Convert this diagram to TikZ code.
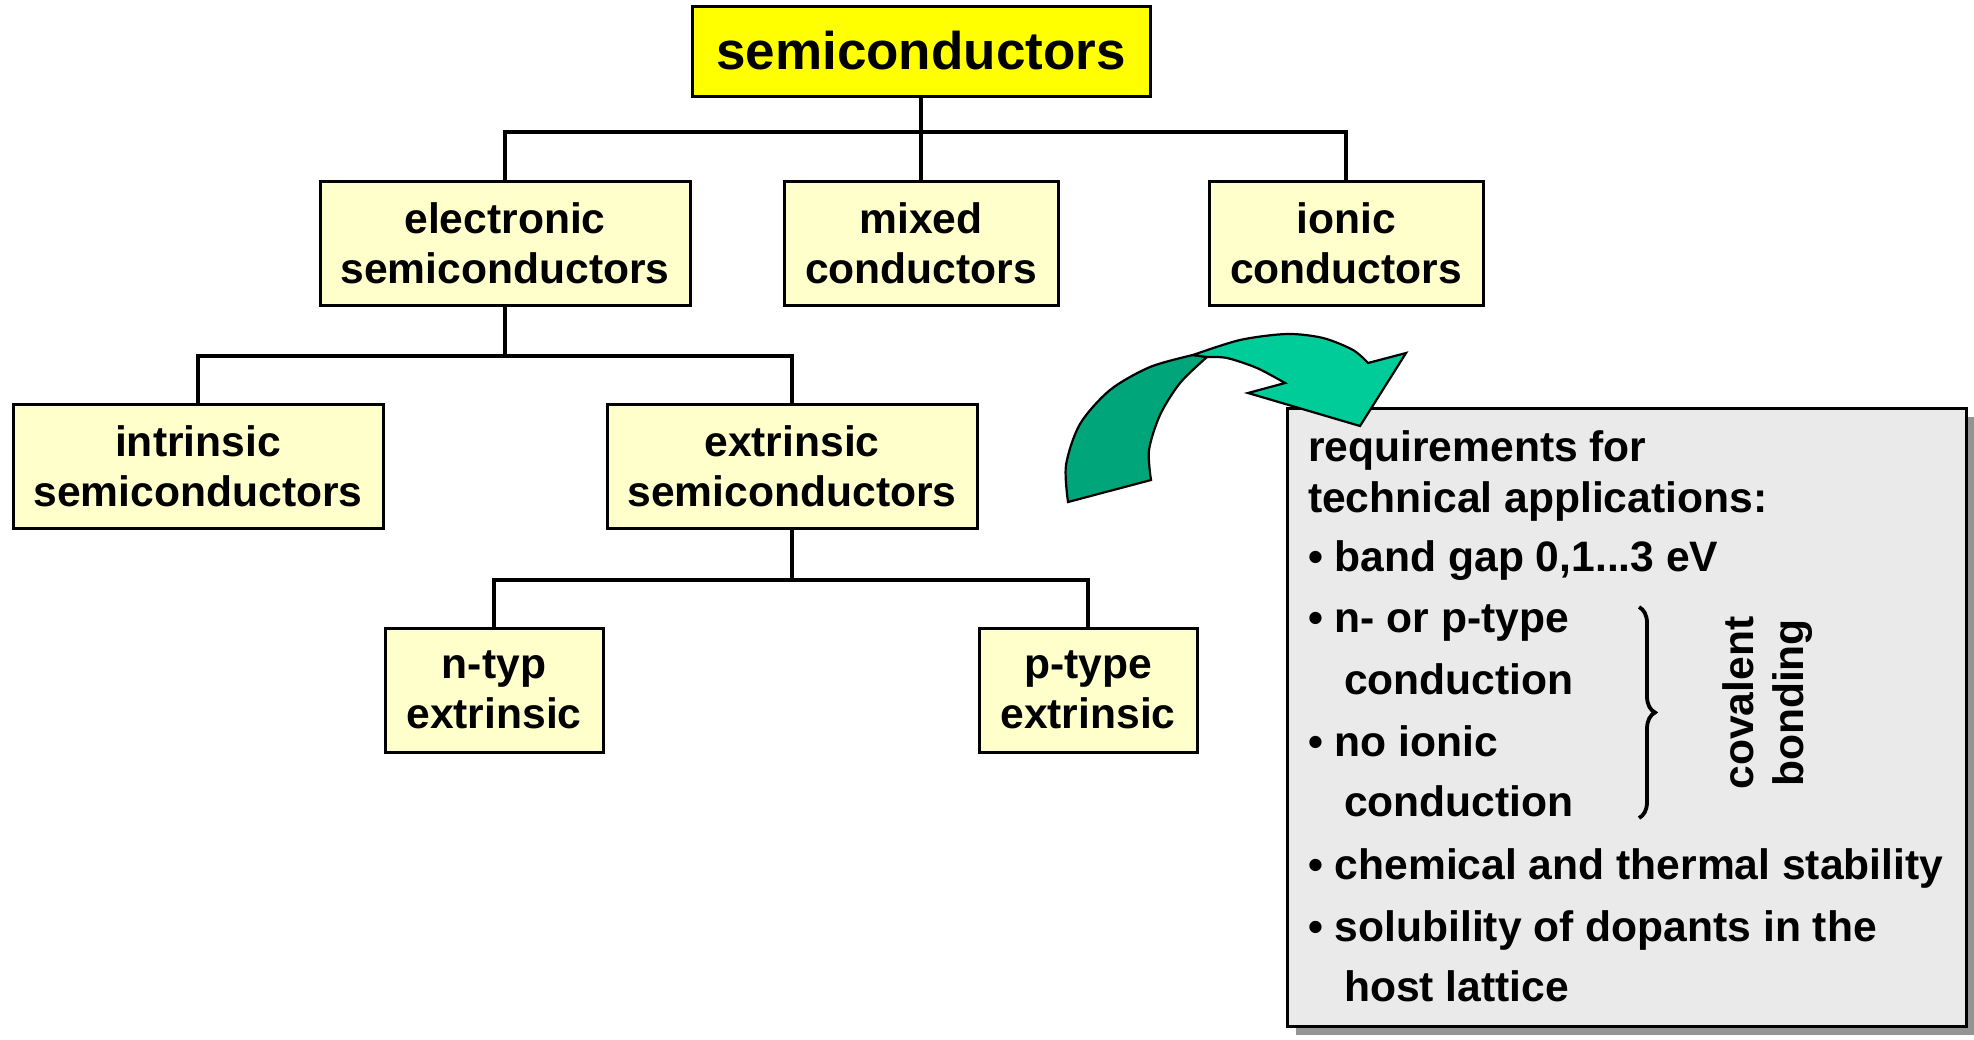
\documentclass[tikz,border=0pt]{standalone}
\usepackage{fontspec}
\setmainfont{Liberation Sans}
\usetikzlibrary{positioning,shadows,decorations.pathreplacing}
\definecolor{TopYellow}{RGB}{255,255,0}
\definecolor{BoxYellow}{RGB}{255,255,204}
\definecolor{PanelGray}{RGB}{234,234,234}
\definecolor{ArrowLight}{RGB}{0,204,153}
\definecolor{ArrowDark}{RGB}{0,166,122}

\begin{document}
\begin{tikzpicture}[x=0.5pt, y=-0.5pt,
  every node/.style={font=\bfseries\fontsize{21.3}{25}\selectfont},
  class/.style={draw, line width=1.5pt, fill=BoxYellow, align=center, minimum height=62pt, inner sep=0pt},
  wire/.style={line width=1.6pt}]
  \useasboundingbox (0,0) rectangle (1974,1039);

  % Tree of classes
  \node[class, fill=TopYellow, minimum width=229pt, minimum height=45pt,
        font=\bfseries\fontsize{26.5}{30}\selectfont] (semi) at (921,51) {semiconductors};
  \node[class, minimum width=185pt] (elec) at (505,243) {electronic\\semiconductors};
  \node[class, minimum width=137pt] (mixed) at (921,243) {mixed\\conductors};
  \node[class, minimum width=137pt] (ionic) at (1346,243) {ionic\\conductors};
  \node[class, minimum width=185pt] (intr) at (198,466) {intrinsic\\semiconductors};
  \node[class, minimum width=185pt] (extr) at (792,466) {extrinsic\\semiconductors};
  \node[class, minimum width=109pt] (ntyp) at (494,690) {n-typ\\extrinsic};
  \node[class, minimum width=109pt] (ptyp) at (1088,690) {p-type\\extrinsic};

  % Connectors
  \coordinate (busA) at (0,132);
  \coordinate (busB) at (0,356);
  \coordinate (busC) at (0,580);
  \draw[wire] (semi.south) -- (mixed.north);
  \draw[wire] (elec.north) -- (elec.north |- busA) -- (ionic.north |- busA) -- (ionic.north);
  \draw[wire] (elec.south) -- (elec.south |- busB);
  \draw[wire] (intr.north) -- (intr.north |- busB) -- (extr.north |- busB) -- (extr.north);
  \draw[wire] (extr.south) -- (extr.south |- busC);
  \draw[wire] (ntyp.north) -- (ntyp.north |- busC) -- (ptyp.north |- busC) -- (ptyp.north);

  % Requirements panel
  \node[draw, line width=1.5pt, fill=PanelGray, minimum width=339.5pt, minimum height=309pt, inner sep=0pt,
        drop shadow={shadow xshift=4.5pt, shadow yshift=-4.5pt, fill=black!42, opacity=1}] (req) at (1626.5,717) {};
  \node[anchor=base west] (reqA) at (1301,461) {requirements for};
  \node[anchor=base west] (reqB) at (1301,512) {technical applications:};
  \node[anchor=base west] (gap) at (1301,571) {• band gap 0,1...3 eV};
  \node[anchor=base west] (npA) at (1301,632) {• n- or p-type};
  \node[anchor=base west] (npB) at (1337,694) {conduction};
  \node[anchor=base west] (ionA) at (1301,756) {• no ionic};
  \node[anchor=base west] (ionB) at (1337,816) {conduction};
  \node[anchor=base west] (stab) at (1301,879) {• chemical and thermal stability};
  \node[anchor=base west] (solA) at (1301,941) {• solubility of dopants in the};
  \node[anchor=base west] (solB) at (1337,1001) {host lattice};
  \draw[decorate, decoration={brace, amplitude=8pt}, line width=1.9pt] (1639,607) -- (1639,818);
  \node[rotate=90, align=center] (bond) at (1768,703) {covalent\\bonding};

  % Curved arrow
  \filldraw[fill=ArrowDark, draw=black, line width=1.1pt]
    plot[smooth] coordinates {(1068,502) (1066,465) (1080,424) (1110,390) (1150,367) (1193,355)}
    -- plot[smooth] coordinates {(1207,357) (1180,383) (1160,415) (1149,450) (1151,480)} -- cycle;
  \filldraw[fill=ArrowLight, draw=black, line width=1.1pt]
    plot[smooth] coordinates {(1193,355) (1240,340) (1287,334) (1323,338) (1353,350) (1368,363)}
    -- (1406,353) -- (1360,426) -- (1248,393) -- (1285,383)
    -- plot[smooth] coordinates {(1285,383) (1257,368) (1227,358) (1207,357)} -- cycle;
\end{tikzpicture}
\end{document}
